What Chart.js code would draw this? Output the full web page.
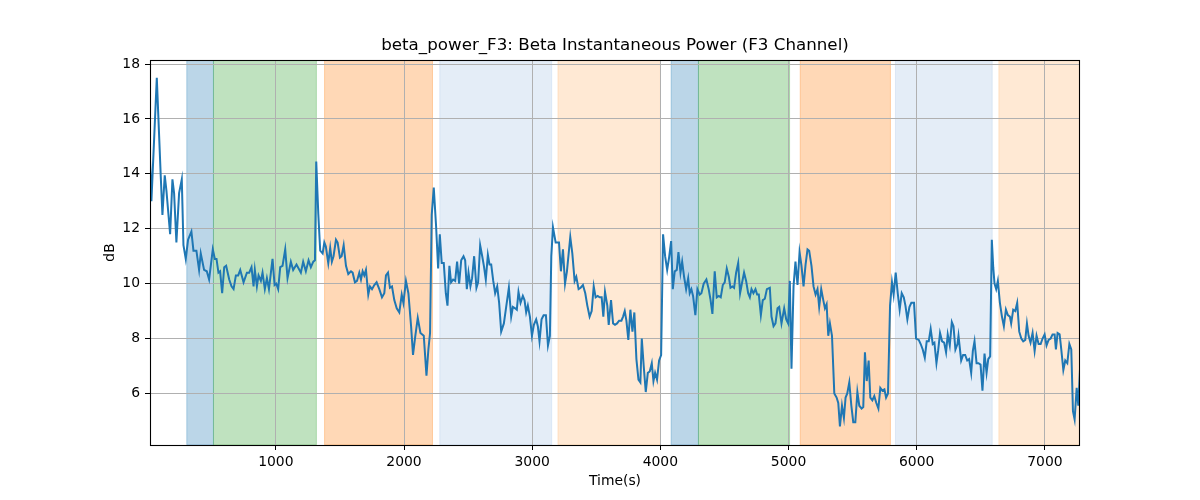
<!DOCTYPE html>
<html lang="en">
<head>
<meta charset="UTF-8">
<title>beta_power_F3</title>
<script src="https://cdn.jsdelivr.net/npm/chart.js@4.4.1/dist/chart.umd.min.js"></script>
<style>
  body { margin: 0; background: #fff; }
</style>
</head>
<body>
<canvas id="chart" width="1200" height="500"></canvas>
<script>
// time (s) and beta power (dB)
const timeSec = [
  18,29,71,102,115,133,146,175,193,206,224,245,266,279,297,315,341,357,380,401,414,440,461,479,508,524,537,552,565,581,597,612,636,654,670,688,706,722,748,774,792,810,826,836,852,865,883,896,914,930,946,974,990,1003,1018,1034,1052,
  1073,1091,1117,1135,1161,1195,1213,1234,1255,1273,1292,1305,1315,1331,1346,1365,1378,1390,1409,1424,1437,1450,1469,1482,1500,1513,1529,1547,1565,1586,1599,1617,1633,1651,1664,1677,1690,1703,1721,1734,1750,1768,1786,1807,1828,1846,1859,1875,1890,1906,1924,1943,1963,1982,1995,2015,2034,2055,2070,2088,2107,
  2128,2154,2175,2190,2203,2216,2232,2250,2266,2279,2294,2310,2326,2339,2354,2367,2383,2399,2414,2430,2446,2464,2477,2490,2503,2518,2531,2547,2565,2578,2594,2610,2623,2638,2654,2667,2680,2696,2711,2727,2742,2758,2779,2797,2818,2836,2849,2867,2880,2893,2909,2927,2940,2953,2966,2982,2998,3013,3031,3044,3057,3073,3089,3107,3123,3138,3149,3162,
  3183,3209,3224,3240,3256,3271,3297,3313,3331,3344,3362,3378,3396,3414,3430,3448,3464,3480,3495,3511,3526,3542,3555,3568,3586,3597,3615,3631,3646,3662,3678,3696,3709,3722,3735,3750,3766,3782,3797,3813,3829,3844,3855,3870,3886,3902,3917,3933,3946,3959,3974,3990,4006,4021,4037,4053,4068,4084,4097,4112,4128,4141,4157,4170,4185,4201,4217,
  4229,4242,4255,4273,4289,4307,4320,4338,4359,4377,4390,4406,4424,4440,4456,4471,4487,4502,4518,4534,4547,4562,4575,4591,4607,4622,4638,4653,4669,4685,4698,4711,4726,4742,4755,4768,4784,4799,4815,4831,4854,4867,4883,4898,4914,4927,4945,4966,4982,4997,5010,5023,5039,5054,5070,5086,5101,5117,5133,5148,5161,5179,5195,5211,5226,5239,5255,5271,
  5284,5297,5310,5323,5339,5357,5375,5388,5401,5417,5432,5445,5458,5474,5490,5505,5521,5537,5552,5570,5583,5596,5610,5625,5638,5654,5669,5685,5701,5716,5732,5748,5761,5776,5792,5807,5820,5836,5852,5867,5883,5899,5912,5927,5943,5958,5979,5995,6016,6031,6047,6063,6078,6094,6109,6125,6138,6154,6167,6182,6198,6214,6229,6242,6258,6274,6287,6302,6318,6326,
  6347,6362,6378,6394,6409,6425,6438,6451,6467,6482,6498,6513,6529,6545,6558,6573,6586,6597,6607,6620,6633,6649,6665,6680,6696,6711,6727,6737,6753,6769,6784,6800,6816,6831,6847,6860,6873,6888,6904,6920,6935,6951,6967,6982,6998,7013,7029,7045,7060,7076,7086,7099,7115,7128,7144,7159,7175,7191,7206,7219,7232,7248,7261,7274
];
const betaDb = [
  14.5,13.0,17.5,13.9,12.5,13.95,13.4,11.8,13.8,13.3,11.5,13.3,13.8,11.4,10.9,11.6,11.9,11.2,11.2,10.5,11.1,10.5,10.45,10.15,11.25,10.9,10.9,10.4,10.45,9.65,10.6,10.65,10.15,9.9,9.8,10.3,10.3,10.5,10.05,10.4,10.4,10.6,9.9,10.5,9.9,10.3,10.1,10.4,9.8,10.2,9.8,10.9,9.95,10.0,9.8,10.6,10.65,
  11.25,10.2,10.8,10.5,10.7,10.4,10.8,10.45,10.85,10.6,10.8,10.85,14.45,12.55,11.2,11.1,11.5,11.35,10.75,11.3,10.8,11.0,11.6,11.5,10.95,11.0,11.4,10.65,10.35,10.45,10.4,10.05,10.1,10.4,10.15,10.45,10.3,10.5,9.6,9.9,9.8,9.95,10.05,9.8,9.5,9.65,10.3,10.4,9.85,9.9,9.4,9.1,8.95,9.6,9.3,10.1,9.65,8.45,7.4,8.1,8.75,
  8.2,8.1,6.65,7.6,8.2,12.5,13.5,12.1,10.55,11.8,10.75,10.75,9.65,9.2,10.65,10.05,10.15,10.1,10.8,10.0,10.85,11.0,10.85,9.8,10.4,9.9,10.2,11.0,9.85,10.05,11.4,11.0,10.65,10.15,11.05,10.7,10.7,10.1,9.65,9.9,9.3,8.25,8.55,9.15,9.85,8.8,9.15,9.1,9.05,9.7,9.3,9.55,9.4,8.95,9.2,8.8,8.1,8.5,8.7,8.45,7.9,8.7,8.85,8.85,7.75,8.1,11.0,12.05,
  11.5,11.5,10.45,11.25,10.0,10.45,11.7,11.1,10.1,10.25,9.8,9.85,9.95,9.65,9.2,8.8,9.0,9.9,9.5,9.55,9.5,9.5,8.8,9.7,9.2,8.5,9.4,8.55,8.5,8.55,8.65,8.65,8.8,9.0,8.65,7.95,9.05,8.25,8.95,7.25,6.5,6.4,8.0,7.0,6.05,6.75,6.8,7.1,6.45,6.75,6.5,7.2,7.4,11.8,11.0,10.5,10.95,11.55,9.8,10.45,10.5,11.15,10.4,10.8,10.25,9.8,10.2,
  9.65,9.8,9.55,8.85,9.8,9.6,9.65,10.0,10.15,9.8,9.45,8.9,10.45,9.5,9.55,9.5,9.95,10.05,10.55,10.25,9.85,9.9,9.85,10.4,10.75,9.65,10.05,10.4,10.1,9.65,9.5,9.8,9.65,9.8,9.6,9.6,8.85,9.4,9.45,9.8,9.85,8.8,8.45,8.55,9.1,9.15,8.55,9.1,8.7,8.55,10.1,6.9,9.9,10.8,9.95,11.15,10.65,9.9,10.7,11.25,11.2,10.65,9.9,9.6,9.8,9.15,9.8,9.4,
  9.1,9.25,8.1,8.55,8.1,6.0,5.85,5.65,4.8,5.55,5.1,5.85,6.0,6.4,5.55,4.95,4.95,6.05,5.55,5.45,5.5,7.5,6.45,7.2,5.85,5.75,5.9,5.65,5.45,6.2,6.1,6.15,5.85,6.0,9.2,10.05,9.6,10.4,9.65,9.05,9.65,9.5,9.2,8.7,9.15,9.3,9.3,8.0,7.95,7.8,7.6,7.3,7.9,7.9,8.35,7.8,7.85,7.1,7.55,8.2,7.9,7.85,7.5,8.15,7.75,8.6,8.45,7.6,7.8,8.1,
  7.2,7.4,7.4,7.2,7.25,6.75,7.55,7.9,7.1,7.1,7.05,6.1,7.45,6.75,7.25,7.35,11.6,10.6,10.0,9.8,10.1,9.3,8.8,8.45,9.05,8.85,8.8,8.55,9.05,9.0,9.3,8.25,8.0,7.9,7.95,8.55,8.1,7.85,8.2,7.55,8.1,7.8,7.8,8.0,8.15,7.75,7.95,8.0,8.15,8.15,7.6,8.2,8.15,7.6,6.85,7.2,7.1,7.8,7.6,5.35,5.05,6.2,5.55,6.9
];

// shaded phases
const spanStart = [305, 513, 1380, 2279, 3201, 4084, 4297, 5091, 5834, 6641];
const spanEnd   = [513, 1316, 2222, 3152, 4000, 4297, 5008, 5795, 6589, 7400];
const spanColor = [
  'rgba(31,119,180,0.3)', 'rgba(44,160,44,0.3)', 'rgba(255,127,14,0.3)', 'rgba(174,199,232,0.33)', 'rgba(255,187,120,0.32)',
  'rgba(31,119,180,0.3)', 'rgba(44,160,44,0.3)', 'rgba(255,127,14,0.3)', 'rgba(174,199,232,0.33)', 'rgba(255,187,120,0.32)'
];

const xTicks = [1000, 2000, 3000, 4000, 5000, 6000, 7000];
const yTicks = [6, 8, 10, 12, 14, 16, 18];

const FONT = '"DejaVu Sans", sans-serif';

const spans = {
  id: 'spans',
  beforeDraw(chart) {
    const c = chart.ctx, a = chart.chartArea;
    const x = chart.scales.x;
    c.save();
    c.beginPath();
    c.rect(a.left, a.top, a.right - a.left, a.bottom - a.top);
    c.clip();
    for (let i = 0; i < spanStart.length; i++) {
      const x0 = x.getPixelForValue(spanStart[i]);
      const x1 = x.getPixelForValue(spanEnd[i]);
      c.fillStyle = spanColor[i];
      c.fillRect(x0, a.top, x1 - x0, a.bottom - a.top);
      c.strokeStyle = spanColor[i];
      c.lineWidth = 1;
      c.strokeRect(x0, a.top, x1 - x0, a.bottom - a.top);
    }
    c.restore();
  },
  afterDraw(chart) {
    const c = chart.ctx, a = chart.chartArea;
    c.save();
    c.strokeStyle = '#000';
    c.lineWidth = 1.1;
    c.strokeRect(a.left + 0.5, a.top + 0.5, a.right - a.left - 1, a.bottom - a.top);
    c.fillStyle = '#000';
    c.textAlign = 'center';
    c.textBaseline = 'middle';
    c.font = '16.7px ' + FONT;
    c.fillText('beta_power_F3: Beta Instantaneous Power (F3 Channel)', (a.left + a.right) / 2, 46);
    c.font = '13.9px ' + FONT;
    c.fillText('Time(s)', (a.left + a.right) / 2, 481);
    c.translate(110, (a.top + a.bottom) / 2);
    c.rotate(-Math.PI / 2);
    c.fillText('dB', 0, 0);
    c.restore();
  }
};

new Chart(document.getElementById('chart').getContext('2d'), {
  type: 'line',
  data: {
    datasets: [{
      data: timeSec.map((t, i) => ({ x: t, y: betaDb[i] })),
      borderColor: '#1f77b4',
      borderWidth: 2,
      pointRadius: 0,
      tension: 0,
      fill: false
    }]
  },
  options: {
    responsive: false,
    devicePixelRatio: 1,
    animation: false,
    layout: { padding: { top: 60, right: 120, left: 0, bottom: 0 } },
    plugins: { legend: { display: false }, tooltip: { enabled: false } },
    scales: {
      x: {
        type: 'linear',
        min: 18,
        max: 7274,
        afterBuildTicks: s => { s.ticks = xTicks.map(v => ({ value: v })); },
        afterFit: s => { s.height = 55; },
        grid: { color: '#b0b0b0', lineWidth: 1, tickLength: 5, tickColor: '#000' },
        border: { display: false },
        ticks: { color: '#000', font: { family: FONT, size: 13.9 }, padding: 4, maxRotation: 0, callback: v => String(v) }
      },
      y: {
        type: 'linear',
        min: 4.12,
        max: 18.15,
        afterBuildTicks: s => { s.ticks = yTicks.map(v => ({ value: v })); },
        afterFit: s => { s.width = 150; },
        grid: { color: '#b0b0b0', lineWidth: 1, tickLength: 5, tickColor: '#000' },
        border: { display: false },
        ticks: { color: '#000', font: { family: FONT, size: 13.9 }, padding: 5, callback: v => String(v) }
      }
    }
  },
  plugins: [spans]
});
</script>
</body>
</html>
